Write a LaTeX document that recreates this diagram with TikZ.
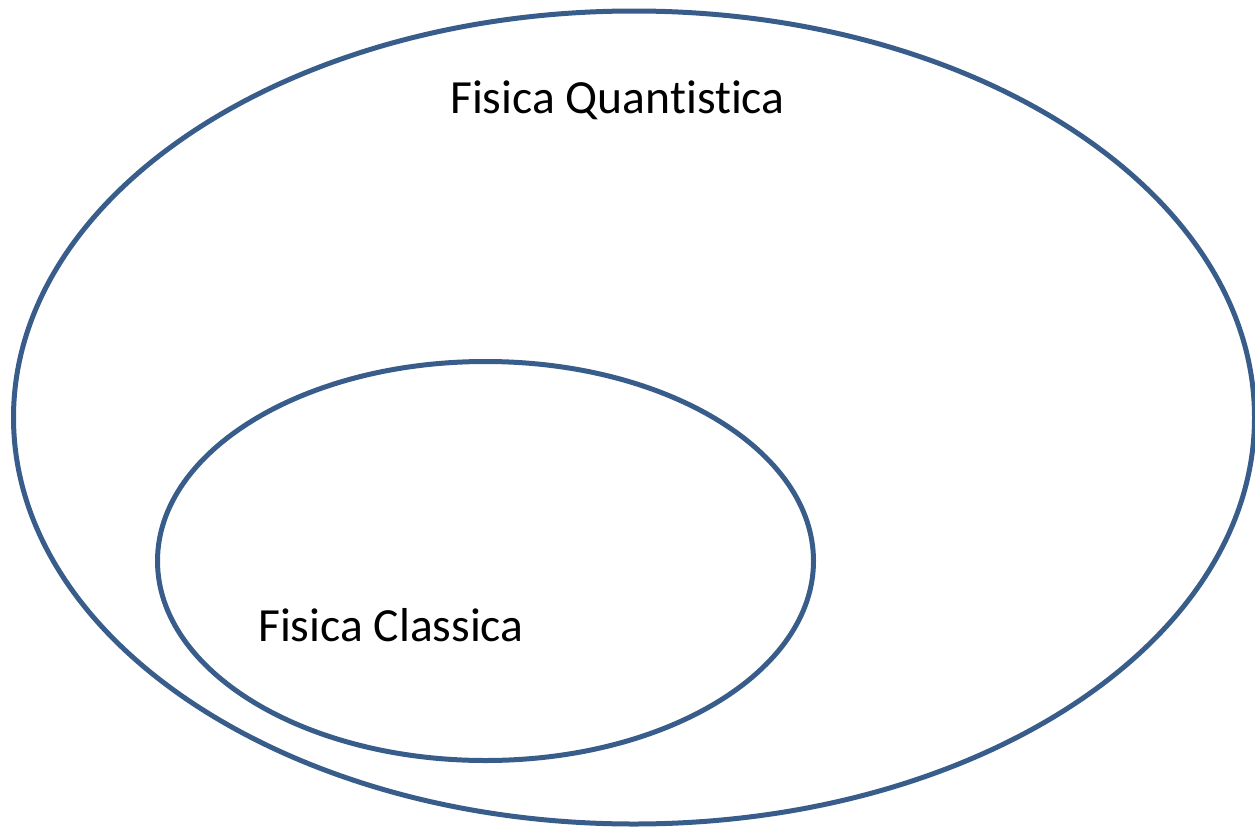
\documentclass[tikz,border=0pt]{standalone}
\usepackage{fontspec}
\setmainfont[Ligatures={NoCommon}]{Carlito}
\definecolor{setblue}{HTML}{385D8A}
\begin{document}
\begin{tikzpicture}[x=1pt,y=-1pt,
  setline/.style={draw=setblue,line width=5pt},
  setlabel/.style={anchor=base west,inner sep=0pt,font=\fontsize{47.6}{57}\selectfont}]
\useasboundingbox (0,0) rectangle (1255,827);
\begin{scope}
\clip (0,0) rectangle (1255,827);
\draw[setline] (634,417.5) ellipse [x radius=620.5, y radius=406.5];
\draw[setline] (485.5,561) ellipse [x radius=328, y radius=199.5];
\end{scope}
\node[setlabel] (quant) at (450,113) {Fisica Quant\kern0pt ist\kern0pt ica};
\node[setlabel] (class) at (258,641) {Fisica Classica};
\end{tikzpicture}
\end{document}
